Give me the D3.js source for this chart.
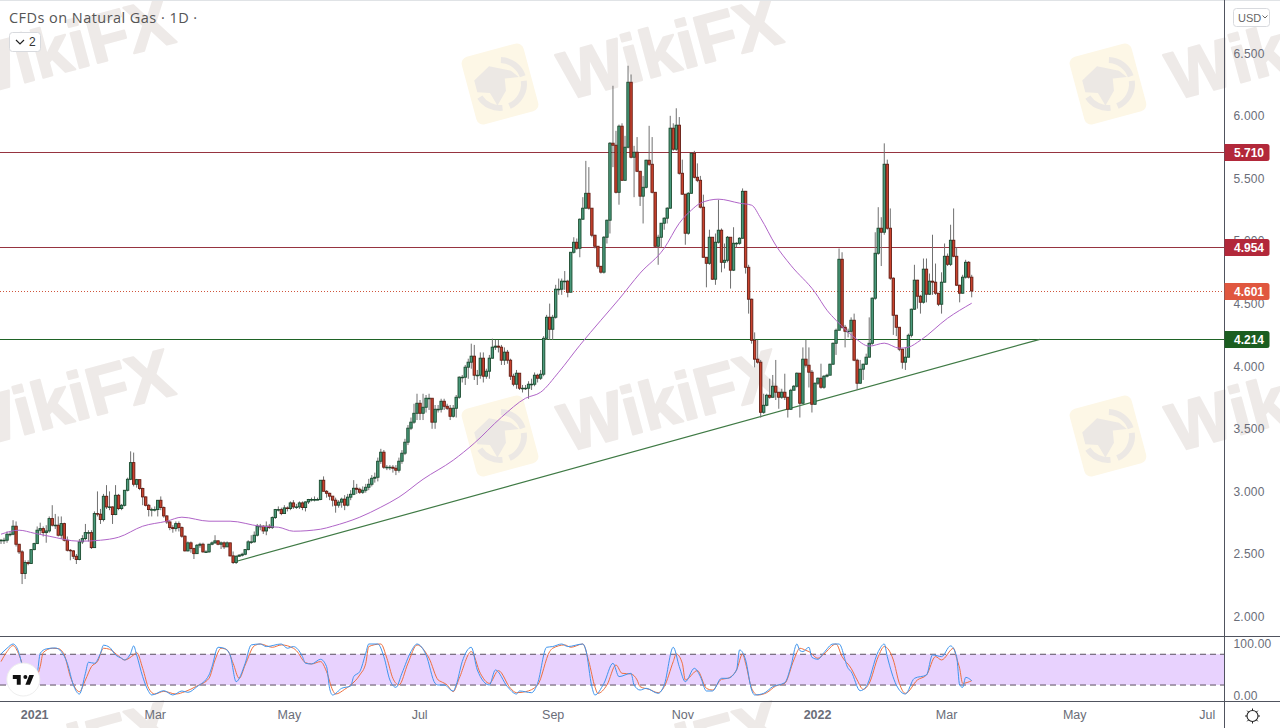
<!DOCTYPE html>
<html>
<head>
<meta charset="utf-8">
<script src="https://cdn.jsdelivr.net/npm/d3@7"></script>
<title>CFDs on Natural Gas</title>
<style>
html, body { margin: 0; padding: 0; background: #fff; overflow: hidden; }
svg { display: block; }
text { font-family: "Liberation Sans", Arial, sans-serif; }
</style>
</head>
<body>
<script>

// daily closes, one per bar (each bar opens at the previous close)
var closes = [
  2.610,2.610,2.658,2.658,2.722,2.578,2.517,2.344,2.432,2.424,
  2.535,2.583,2.690,2.703,2.671,2.684,2.783,2.730,2.730,2.650,
  2.743,2.610,2.530,2.525,2.482,2.456,2.597,2.623,2.671,2.671,
  2.551,2.823,2.818,2.775,2.961,2.876,2.876,2.815,2.969,2.863,
  2.889,3.009,3.097,3.230,3.057,3.094,3.023,2.956,2.889,2.855,
  2.855,2.855,2.929,2.871,2.804,2.756,2.711,2.703,2.743,2.711,
  2.642,2.525,2.589,2.543,2.503,2.570,2.578,2.517,2.517,2.578,
  2.589,2.605,2.578,2.589,2.557,2.589,2.485,2.432,2.482,2.490,
  2.498,2.535,2.597,2.597,2.650,2.722,2.722,2.684,2.722,2.711,
  2.791,2.855,2.855,2.823,2.868,2.863,2.908,2.876,2.876,2.908,
  2.871,2.916,2.935,2.935,2.935,2.935,3.089,
  3.001,2.985,2.962,2.930,2.890,2.914,2.938,2.890,2.954,2.977,
  3.025,3.017,2.993,3.009,3.033,3.057,3.105,3.113,3.241,3.313,
  3.193,3.193,3.193,3.185,3.169,3.241,3.305,3.393,3.505,3.553,
  3.624,3.704,3.624,3.672,3.744,3.744,3.553,3.656,3.656,3.720,
  3.680,3.664,3.600,3.664,3.752,3.912,3.912,3.992,4.032,4.080,
  3.928,3.928,4.064,3.920,3.960,4.064,4.152,4.160,4.152,4.048,
  4.112,4.048,3.920,3.856,3.944,3.824,3.824,3.824,3.856,3.856,
  3.928,3.904,3.936,4.223,4.391,4.295,4.391,4.615,4.615,
  4.679,4.679,4.591,4.910,4.990,4.942,5.174,5.262,5.381,5.262,
  5.046,4.958,4.798,4.751,5.030,5.166,5.781,5.765,5.389,5.917,
  5.485,5.749,6.268,5.669,5.709,5.557,5.358,5.429,5.645,5.613,
  5.389,4.958,5.030,5.142,5.182,5.262,5.901,5.733,5.925,5.541,
  5.374,5.062,5.381,5.701,5.509,5.485,5.270,4.870,4.822,5.030,
  4.695,4.990,5.086,4.830,4.846,5.030,4.767,4.982,4.982,5.022,
  5.397,4.790,4.535,4.207,4.056,4.032,3.632,3.688,3.768,3.752,
  3.840,3.792,3.752,3.792,3.752,3.656,3.808,3.840,3.944,3.704,
  4.056,4.008,3.952,3.696,3.864,3.904,3.832,3.920,3.928,4.016,
  4.183,4.287,4.854,4.311,4.279,4.279,4.367,4.048,3.864,3.976,
  4.016,4.072,4.183,4.543,4.902,5.102,5.070,5.613,5.102,4.703,
  4.407,4.311,4.136,4.032,4.072,4.247,4.455,4.687,4.559,4.511,
  4.775,4.575,4.679,4.671,4.583,4.495,4.671,4.878,4.814,5.006,
  4.878,4.647,4.583,4.711,4.830,4.711,4.601
];

var highs = [
  2.62,2.63,2.68,2.68,2.77,2.76,2.58,2.53,2.45,2.45,
  2.54,2.59,2.72,2.75,2.72,2.73,2.80,2.89,2.82,2.80,
  2.80,2.75,2.64,2.54,2.53,2.50,2.62,2.65,2.74,2.69,
  2.69,2.84,3.00,2.86,2.98,3.05,3.00,2.88,3.05,2.98,
  2.90,3.01,3.11,3.32,3.31,3.10,3.09,3.03,2.96,2.90,
  2.87,2.88,2.93,2.96,2.88,2.81,2.76,2.73,2.76,2.76,
  2.72,2.65,2.60,2.60,2.55,2.58,2.59,2.59,2.53,2.58,
  2.60,2.65,2.61,2.60,2.60,2.60,2.59,2.52,2.49,2.50,
  2.51,2.54,2.61,2.65,2.68,2.74,2.74,2.73,2.76,2.74,
  2.80,2.86,2.88,2.87,2.89,2.88,2.92,2.93,2.90,2.92,
  2.92,2.92,2.94,2.95,2.96,2.95,3.09,
  3.12,3.01,2.99,2.95,2.95,2.93,2.95,2.97,2.98,3.01,
  3.09,3.06,3.03,3.04,3.06,3.10,3.13,3.15,3.27,3.34,
  3.33,3.21,3.21,3.21,3.21,3.27,3.33,3.42,3.53,3.59,
  3.70,3.78,3.73,3.78,3.77,3.78,3.63,3.69,3.69,3.74,
  3.74,3.70,3.69,3.69,3.77,3.92,3.93,4.01,4.06,4.18,
  4.17,3.97,4.11,4.11,3.98,4.09,4.22,4.21,4.21,4.17,
  4.15,4.13,4.06,3.94,3.97,3.94,3.85,3.85,3.88,3.90,
  3.95,3.94,3.97,4.24,4.41,4.50,4.41,4.65,4.70,
  4.70,4.76,4.69,4.91,5.03,5.02,5.18,5.35,5.64,5.59,
  5.26,5.05,4.96,4.80,5.04,5.17,5.79,6.24,5.88,5.93,
  5.94,5.84,6.40,6.33,5.76,5.83,5.55,5.52,5.65,5.92,
  5.83,5.39,5.05,5.14,5.19,5.27,6.00,5.94,6.06,5.99,
  5.65,5.37,5.39,5.70,5.72,5.62,5.52,5.37,4.87,5.09,
  5.03,5.06,5.33,5.10,4.98,5.04,5.03,5.11,4.99,5.03,
  5.42,5.40,4.81,4.54,4.27,4.21,4.05,3.78,3.78,3.90,
  3.93,4.05,3.79,3.82,3.94,3.75,3.82,3.85,3.95,3.94,
  4.15,4.21,4.15,3.97,3.87,3.91,4.02,3.93,3.94,4.02,
  4.19,4.30,4.94,4.91,4.33,4.30,4.39,4.42,4.06,4.05,
  4.02,4.10,4.39,4.55,5.07,5.27,5.19,5.78,5.65,5.26,
  4.71,4.41,4.31,4.14,4.15,4.26,4.46,4.81,4.69,4.57,
  4.86,4.86,4.74,5.05,4.82,4.58,4.75,4.98,4.90,5.13,
  5.26,4.95,4.65,4.73,4.85,4.84,4.73
];

var lows = [
  2.58,2.58,2.59,2.64,2.65,2.56,2.50,2.26,2.30,2.41,
  2.42,2.53,2.58,2.66,2.64,2.59,2.67,2.72,2.70,2.64,
  2.62,2.60,2.52,2.45,2.46,2.42,2.45,2.58,2.61,2.60,
  2.54,2.55,2.80,2.74,2.76,2.86,2.85,2.74,2.81,2.85,
  2.85,2.88,3.00,3.09,3.04,3.03,3.01,2.89,2.88,2.80,
  2.80,2.84,2.80,2.85,2.79,2.74,2.69,2.67,2.68,2.68,
  2.63,2.52,2.52,2.51,2.46,2.50,2.55,2.51,2.51,2.51,
  2.57,2.58,2.57,2.54,2.54,2.57,2.48,2.42,2.42,2.48,
  2.48,2.49,2.53,2.58,2.59,2.64,2.69,2.66,2.65,2.70,
  2.70,2.78,2.84,2.81,2.82,2.84,2.85,2.86,2.86,2.86,
  2.85,2.84,2.90,2.92,2.92,2.93,2.93,
  3.00,2.95,2.93,2.88,2.83,2.87,2.87,2.85,2.88,2.93,
  2.97,2.98,2.98,2.98,2.99,3.01,3.04,3.07,3.08,3.22,
  3.18,3.17,3.17,3.15,3.13,3.15,3.22,3.29,3.37,3.49,
  3.54,3.57,3.57,3.57,3.63,3.65,3.50,3.50,3.63,3.63,
  3.65,3.65,3.57,3.59,3.59,3.74,3.87,3.85,3.90,3.98,
  3.89,3.85,3.90,3.87,3.90,3.90,4.06,4.13,4.11,4.01,
  4.01,4.02,3.89,3.84,3.82,3.81,3.79,3.81,3.74,3.81,
  3.84,3.87,3.89,3.92,4.21,4.21,4.21,4.38,4.57,
  4.57,4.61,4.55,4.59,4.90,4.93,4.87,5.17,5.26,5.25,
  5.03,4.94,4.78,4.74,4.74,4.98,5.06,5.59,5.38,5.29,
  5.48,5.48,5.74,5.66,5.35,5.55,5.28,5.14,5.42,5.60,
  5.38,4.95,4.81,4.95,5.09,5.14,5.26,5.72,5.72,5.53,
  5.37,4.97,5.05,5.38,5.50,5.47,5.26,4.87,4.63,4.81,
  4.69,4.65,4.98,4.75,4.78,4.83,4.62,4.76,4.95,4.97,
  5.02,4.74,4.42,4.18,3.99,4.02,3.59,3.62,3.68,3.74,
  3.75,3.73,3.66,3.74,3.73,3.59,3.65,3.81,3.83,3.59,
  3.70,3.99,3.83,3.63,3.69,3.85,3.82,3.82,3.91,3.93,
  4.01,4.09,4.29,4.30,4.15,4.23,4.21,4.04,3.81,3.86,
  3.89,4.01,4.07,4.17,4.53,4.89,4.80,5.05,5.09,4.69,
  4.25,4.24,4.12,3.98,3.97,4.07,4.23,4.45,4.46,4.42,
  4.50,4.51,4.57,4.57,4.57,4.48,4.42,4.67,4.80,4.80,
  4.87,4.64,4.51,4.58,4.70,4.70,4.55
];

// 50 day moving average, sampled along the curve
var maBars = [0,6,11,16,26,33,39,47,55,60,69,76,86,92,97,106,110,119,126,132,140,150,157,166,174,179,185,192,199,205,212,220,225,229,232,238,245,249,252,257,262,270,274,277,283,288,293,298,301,305,314,322];
var maValues = [2.658,2.690,2.666,2.642,2.602,2.610,2.634,2.722,2.762,2.794,2.762,2.762,2.722,2.714,2.682,2.698,2.722,2.794,2.874,2.954,3.097,3.249,3.385,3.592,3.744,3.792,3.952,4.167,4.367,4.535,4.743,4.942,5.142,5.246,5.302,5.334,5.302,5.286,5.182,4.966,4.806,4.591,4.447,4.367,4.231,4.160,4.184,4.144,4.152,4.207,4.383,4.503];

// stochastic RSI
var kBars = [0,2,4,6,7,10,12,13,15,18,20,22,24,26,28,29,31,33,34,36,38,40,41,43,44,45,47,49,50,54,57,60,62,65,69,70,72,74,76,78,81,83,86,88,93,95,97,100,101,103,106,108,109,110,113,116,117,119,121,122,125,127,129,131,133,136,138,141,144,145,147,150,151,153,156,158,162,164,168,171,172,176,178,181,183,186,188,193,194,196,197,200,203,205,209,210,212,214,218,220,223,225,227,230,232,234,236,239,241,244,245,247,249,250,253,256,260,262,264,265,266,268,269,271,273,276,278,281,282,285,287,291,293,294,297,300,303,307,309,312,315,317,318,319,320,322];
var kValues = [80.6,91.7,100,81.9,59.1,29.9,42.9,81.9,90.4,92.3,85.2,62.4,20.1,2.5,42.9,64.4,62.4,81.9,97.6,93.6,78.7,72.2,68.9,81.9,96.3,78.7,36.4,7.1,0.6,9.0,0.6,8.4,5.8,16.8,39.6,55.9,93.6,91.7,78.7,26.6,62.4,98.2,100,95,100,91.7,95,75.4,62.4,61.1,70.2,55.9,13.6,0.6,13.6,18.1,36.4,46.1,81.9,100,100,75.4,29.9,15.5,42.9,85.2,100,78.7,23.3,20.1,20.1,8.4,20.1,65.7,93.6,49.4,20.1,49.4,16.8,2.5,8.4,5.1,23.3,93.6,95,100,95,100,88.4,16.8,0.6,23.3,62.4,36.4,42.9,20.1,10.3,13.6,3.8,20.1,93.6,55.9,26.6,52.6,36.4,8.4,8.4,33.1,33.1,49.4,88.4,68.9,10.3,0.6,3.8,16.8,24.6,55.9,100,87.1,85.2,93.6,74.1,70.2,83.2,100,100,52.6,46.1,9.0,16.8,85.2,100,75.4,20.1,2.5,33.1,39.6,78.7,75.4,96.3,75.4,20.1,15.5,35,28.5];
var dBars = [0,2,4,6,8,11,13,14,17,19,21,23,26,28,30,32,34,36,39,41,44,45,47,49,51,54,58,61,65,69,71,73,75,77,79,81,84,86,90,93,97,98,101,103,106,108,110,111,114,116,119,121,122,126,128,130,132,135,138,142,145,146,148,150,152,156,159,162,165,169,171,174,178,182,183,187,189,193,195,197,198,201,204,206,209,211,212,215,218,220,223,224,226,227,231,234,236,239,241,244,246,247,249,251,254,257,260,263,265,267,268,271,273,277,279,282,284,286,288,291,293,296,298,300,304,307,310,312,316,317,318,319,322];
var dValues = [65.7,85.2,96.9,78.7,46.1,29.9,55.9,83.2,91.7,91,78.7,36.4,7.1,29.9,55.9,65.7,91.7,89.7,76.7,68.9,78.7,83.2,52.6,13.6,2.5,7.7,2.5,7.1,18.1,33.1,68.9,91.7,88.4,62.4,33.1,59.1,96.3,100,93.6,98.2,91.7,86.9,63.7,61.1,65.7,46.1,10.3,2.5,11.6,20.1,39.6,62.4,95,100,72.2,33.1,20.1,62.4,98.2,72.2,29.9,26.6,20.1,7.1,33.1,85.2,42.9,23.3,48.1,13.6,5.1,7.1,20.1,85.2,91.7,98.2,93.6,100,65.7,16.8,3.8,20.1,59.1,42.9,41.6,29.9,16.8,11.6,5.1,16.8,65.7,80.6,62.4,29.9,48.1,13.6,10.3,31.2,33.1,49.4,80.6,62.4,13.6,0.6,5.1,18.1,23.3,68.9,91.7,87.6,85.2,72.2,80.6,100,75.4,52.6,29.9,11.6,23.3,75.4,95,68.9,23.3,3.8,29.9,39.6,75.4,68.9,91.7,72.2,52.6,23.3,28.5];

var priceTicks = [2, 2.5, 3, 3.5, 4, 4.5, 5, 5.5, 6, 6.5];
var monthBars = [11, 51, 95.5, 138.7, 183, 226, 270.7, 313.5, 356, 400];
var monthLabels = ["2021", "Mar", "May", "Jul", "Sep", "Nov", "2022", "Mar", "May", "Jul"];

var levels = [5.710, 4.954, 4.214];
var levelColors = ["#963440", "#963440", "#1f6326"];
var tagColors = ["#b2283a", "#b2283a", "#1b5e20"];
var lastPrice = 4.601;

var trendBars = [77, 344.6];
var trendPrices = [2.434, 4.214];

var width = 1280, height = 728;
var axisX = 1224.5;

var svg = d3.select("body").append("svg")
  .attr("width", width)
  .attr("height", height);

var x = d3.scaleLinear().domain([0, closes.length - 1]).range([1, 971.7]);
var y = d3.scaleLinear().domain([2, 6.5]).range([616.6, 53.2]);
var stochY = d3.scaleLinear().domain([0, 100]).range([695.3, 644]);

// watermark tiles
var wm = svg.append("g");
[-108, 500, 1108].forEach(function (cx) {
  [84, 436].forEach(function (cy) {
    var g = wm.append("g").attr("transform", "translate(" + cx + "," + cy + ") rotate(-15)");
    g.append("rect").attr("x", -32).attr("y", -35).attr("width", 64).attr("height", 70)
      .attr("rx", 7).attr("fill", "#fdf7e6");
    var a = d3.arc().innerRadius(21).outerRadius(27);
    [[0.3, 1.5], [1.7, 3.0], [3.3, 4.4]].forEach(function (s) {
      g.append("path").attr("d", a({ startAngle: s[0], endAngle: s[1] })).attr("fill", "#ece8e4");
    });
    g.append("path").attr("d", "M-24,-10 L-6,-20 L14,-10 L20,-2 L6,-4 L4,8 L-8,20 L-12,6 L-24,2 Z").attr("fill", "#ece8e4");
  });
});
[62, 670, 1278].forEach(function (cx) {
  [48, 400, 752].forEach(function (cy) {
    wm.append("text")
      .attr("transform", "translate(" + cx + "," + cy + ") rotate(-15)")
      .attr("text-anchor", "middle")
      .attr("dy", "0.35em")
      .attr("font-size", 68)
      .attr("font-weight", "bold")
      .attr("fill", "#eeeae8")
      .attr("stroke", "#eeeae8")
      .attr("stroke-width", 2)
      .attr("stroke-linejoin", "round")
      .text("WikiFX");
  });
});

// stoch band
svg.append("rect")
  .attr("x", 0).attr("y", stochY(80))
  .attr("width", axisX).attr("height", stochY(20) - stochY(80))
  .attr("fill", "#e8d2fe");
[80, 20].forEach(function (v) {
  svg.append("line")
    .attr("x1", 0).attr("x2", axisX)
    .attr("y1", stochY(v)).attr("y2", stochY(v))
    .attr("stroke", "#5a5060").attr("stroke-dasharray", "6 4");
});

// level lines
svg.selectAll(".level")
  .data(levels)
  .enter().append("line")
  .attr("class", "level")
  .attr("x1", 0).attr("x2", axisX)
  .attr("y1", function (d) { return Math.round(y(d)) + 0.5; })
  .attr("y2", function (d) { return Math.round(y(d)) + 0.5; })
  .attr("stroke", function (d, i) { return levelColors[i]; })
  .attr("stroke-width", 1.2);

svg.append("line")
  .attr("x1", 0).attr("x2", axisX)
  .attr("y1", Math.round(y(lastPrice)) + 0.5).attr("y2", Math.round(y(lastPrice)) + 0.5)
  .attr("stroke", "#d0553c").attr("stroke-dasharray", "1 2");

// trend line
svg.append("line")
  .attr("x1", x(trendBars[0])).attr("x2", x(trendBars[1]))
  .attr("y1", y(trendPrices[0])).attr("y2", y(trendPrices[1]))
  .attr("stroke", "#3f7a45").attr("stroke-width", 1.2);

// candles
var opens = closes.map(function (c, i) { return i === 0 ? c : closes[i - 1]; });

svg.append("g").selectAll("line")
  .data(closes)
  .enter().append("line")
  .attr("x1", function (d, i) { return x(i); })
  .attr("x2", function (d, i) { return x(i); })
  .attr("y1", function (d, i) { return y(highs[i]); })
  .attr("y2", function (d, i) { return y(lows[i]); })
  .attr("stroke", "#707070");

svg.append("g").selectAll("rect")
  .data(closes)
  .enter().append("rect")
  .attr("x", function (d, i) { return x(i) - 1.2; })
  .attr("width", 2.4)
  .attr("y", function (d, i) { return y(Math.max(d, opens[i])); })
  .attr("height", function (d, i) { return Math.max(0.6, Math.abs(y(d) - y(opens[i]))); })
  .attr("fill", function (d, i) { return d >= opens[i] ? "#4a9a7c" : "#c9422d"; })
  .attr("stroke", function (d, i) { return d >= opens[i] ? "#1a4a2e" : "#641d14"; })
  .attr("stroke-width", 0.9);

// moving average
var maLine = d3.line()
  .x(function (d, i) { return x(maBars[i]); })
  .y(function (d) { return y(d); })
  .curve(d3.curveMonotoneX);

svg.append("path")
  .attr("d", maLine(maValues))
  .attr("fill", "none")
  .attr("stroke", "#b065c8")
  .attr("stroke-width", 1);

// stochastic lines
function stochLine(bars) {
  return d3.line()
    .x(function (d, i) { return x(bars[i]); })
    .y(function (d) { return stochY(d); })
    .curve(d3.curveMonotoneX);
}
svg.append("path").attr("d", stochLine(dBars)(dValues))
  .attr("fill", "none").attr("stroke", "#ee7040").attr("stroke-width", 1);
svg.append("path").attr("d", stochLine(kBars)(kValues))
  .attr("fill", "none").attr("stroke", "#3f95ee").attr("stroke-width", 1);

// pane frame
svg.append("line").attr("x1", 0).attr("x2", width).attr("y1", 0.5).attr("y2", 0.5).attr("stroke", "#e0e3e6");
[636.5, 701.5].forEach(function (v) {
  svg.append("line").attr("x1", 0).attr("x2", width).attr("y1", v).attr("y2", v).attr("stroke", "#50535e");
});
svg.append("line").attr("x1", axisX).attr("x2", axisX).attr("y1", 0).attr("y2", height).attr("stroke", "#50535e");

// price axis
var priceAxis = d3.axisRight(y)
  .tickValues(priceTicks)
  .tickFormat(d3.format(".3f"))
  .tickSize(0)
  .tickPadding(9);
var pa = svg.append("g").attr("transform", "translate(" + axisX + ",0)").call(priceAxis);
pa.select(".domain").remove();
pa.selectAll("text").attr("font-size", 12).attr("fill", "#6a6d78").attr("letter-spacing", "0.2px")
  .style("font-family", '"Liberation Sans", Arial, sans-serif');

// stoch axis
var stochAxis = d3.axisRight(stochY)
  .tickValues([0, 100])
  .tickFormat(d3.format(".2f"))
  .tickSize(0)
  .tickPadding(9);
var sa = svg.append("g").attr("transform", "translate(" + axisX + ",0)").call(stochAxis);
sa.select(".domain").remove();
sa.selectAll("text").attr("font-size", 12).attr("fill", "#6a6d78").attr("letter-spacing", "0.2px")
  .style("font-family", '"Liberation Sans", Arial, sans-serif');

// time axis
var timeAxis = d3.axisBottom(x)
  .tickValues(monthBars)
  .tickFormat(function (d, i) { return monthLabels[i]; })
  .tickSize(0)
  .tickPadding(9);
var ta = svg.append("g").attr("transform", "translate(0,701)").call(timeAxis);
ta.select(".domain").remove();
ta.selectAll("text")
  .attr("font-size", 12.5)
  .attr("fill", "#6a6d78")
  .attr("font-weight", function (d, i) { return monthLabels[i].length === 4 ? "bold" : "normal"; })
  .style("font-family", '"Liberation Sans", Arial, sans-serif');

// price tags
function tag(value, color) {
  var ty = Math.round(y(value)) + 0.5;
  svg.append("path")
    .attr("d", "M" + axisX + "," + (ty - 8.5) + "H1267q2.5,0 2.5,2.5V" + (ty + 6) + "q0,2.5 -2.5,2.5H" + axisX + "Z")
    .attr("fill", color);
  svg.append("text")
    .attr("x", 1234).attr("y", ty).attr("dy", "0.36em")
    .attr("font-size", 12).attr("font-weight", "bold").attr("fill", "#fff")
    .text(d3.format(".3f")(value));
}
levels.forEach(function (d, i) { tag(d, tagColors[i]); });
tag(lastPrice, "#e0573f");

// header
svg.append("text").attr("x", 9).attr("y", 23)
  .style("font-family", '"Open Sans", sans-serif')
  .attr("font-size", 14.5).attr("letter-spacing", "0.45px").attr("fill", "#555")
  .text("CFDs on Natural Gas \u00b7 1D \u00b7");

svg.append("rect").attr("x", 9.5).attr("y", 32.5).attr("width", 31).attr("height", 19).attr("rx", 3)
  .attr("fill", "#fff").attr("stroke", "#d8dade");
svg.append("path").attr("d", "M16,40l4,4l4,-4").attr("fill", "none").attr("stroke", "#222").attr("stroke-width", 1.2);
svg.append("text").attr("x", 29).attr("y", 46).attr("font-size", 12).attr("fill", "#333").text("2");

svg.append("rect").attr("x", 1233.5).attr("y", 8.5).attr("width", 36).attr("height", 18).attr("rx", 3)
  .attr("fill", "#fff").attr("stroke", "#d8dade");
svg.append("text").attr("x", 1238).attr("y", 21.5).attr("font-size", 11).attr("fill", "#666").text("USD");
svg.append("path").attr("d", "M1262.5,15.5l2.5,2.5l2.5,-2.5").attr("fill", "none").attr("stroke", "#666");

// settings icon
var gear = svg.append("g").attr("transform", "translate(1252.5,716)");
gear.append("circle").attr("r", 5.5).attr("fill", "none").attr("stroke", "#222").attr("stroke-width", 1.1);
d3.range(8).forEach(function (k) {
  var a = k * Math.PI / 4;
  gear.append("line")
    .attr("x1", Math.cos(a) * 5.5).attr("y1", Math.sin(a) * 5.5)
    .attr("x2", Math.cos(a) * 7.5).attr("y2", Math.sin(a) * 7.5)
    .attr("stroke", "#222").attr("stroke-width", 1);
});

// tradingview badge
svg.append("circle").attr("cx", 23.3).attr("cy", 679.5).attr("r", 16.5)
  .attr("fill", "#fff").attr("stroke", "#eee");
svg.append("path")
  .attr("transform", "translate(11.5,671) scale(0.66)")
  .attr("d", "M14 6H2v6h6v9h6V6zm14 15h-7l6-15h7l-6 15zm-7-9a3 3 0 1 0 0-6 3 3 0 0 0 0 6z")
  .attr("fill", "#111");

</script>
</body>
</html>
